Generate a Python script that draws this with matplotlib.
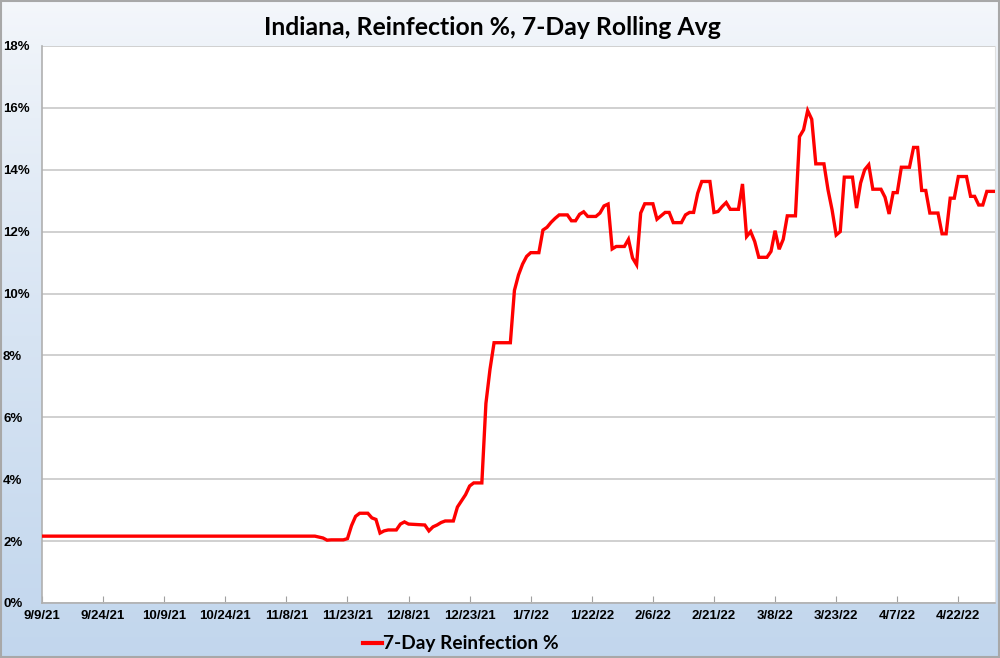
import numpy as np
import pandas as pd
import matplotlib.pyplot as plt
from matplotlib.ticker import FuncFormatter

# breakpoints of the 7-day reinfection % line
dates = ["9/9/21", "11/15/21", "11/16/21", "11/17/21", "11/18/21", "11/19/21", "11/22/21",
         "11/23/21", "11/24/21", "11/25/21", "11/26/21", "11/28/21", "11/29/21", "11/30/21",
         "12/1/21", "12/2/21", "12/3/21", "12/5/21", "12/6/21", "12/7/21", "12/8/21",
         "12/12/21", "12/13/21", "12/14/21", "12/15/21", "12/16/21", "12/17/21", "12/19/21",
         "12/20/21", "12/21/21", "12/22/21", "12/23/21", "12/24/21", "12/26/21", "12/27/21",
         "12/28/21", "12/29/21", "1/2/22", "1/3/22", "1/4/22", "1/5/22", "1/6/22", "1/7/22",
         "1/9/22", "1/10/22", "1/11/22", "1/12/22", "1/13/22", "1/14/22", "1/16/22", "1/17/22",
         "1/18/22", "1/19/22", "1/20/22", "1/21/22", "1/23/22", "1/24/22", "1/25/22", "1/26/22",
         "1/27/22", "1/28/22", "1/30/22", "1/31/22", "2/1/22", "2/2/22", "2/3/22", "2/4/22",
         "2/6/22", "2/7/22", "2/8/22", "2/9/22", "2/10/22", "2/11/22", "2/13/22", "2/14/22",
         "2/15/22", "2/16/22", "2/17/22", "2/18/22", "2/20/22", "2/21/22", "2/22/22", "2/23/22",
         "2/24/22", "2/25/22", "2/27/22", "2/28/22", "3/1/22", "3/2/22", "3/3/22", "3/4/22",
         "3/6/22", "3/7/22", "3/8/22", "3/9/22", "3/10/22", "3/11/22", "3/13/22", "3/14/22",
         "3/15/22", "3/16/22", "3/17/22", "3/18/22", "3/20/22", "3/21/22", "3/22/22", "3/23/22",
         "3/24/22", "3/25/22", "3/27/22", "3/28/22", "3/29/22", "3/30/22", "3/31/22", "4/1/22",
         "4/3/22", "4/4/22", "4/5/22", "4/6/22", "4/7/22", "4/8/22", "4/10/22", "4/11/22",
         "4/12/22", "4/13/22", "4/14/22", "4/15/22", "4/17/22", "4/18/22", "4/19/22", "4/20/22",
         "4/21/22", "4/22/22", "4/24/22", "4/25/22", "4/26/22", "4/27/22", "4/28/22", "4/29/22",
         "5/1/22"]
reinf_pct = [2.16, 2.16, 2.13, 2.10, 2.03, 2.04, 2.04,
             2.08, 2.50, 2.80, 2.90, 2.90, 2.75, 2.70,
             2.26, 2.33, 2.36, 2.36, 2.55, 2.62, 2.55,
             2.52, 2.33, 2.46, 2.52, 2.60, 2.65, 2.65,
             3.10, 3.30, 3.50, 3.78, 3.88, 3.88, 6.45,
             7.55, 8.41, 8.41, 10.10, 10.60, 10.95, 11.20, 11.32,
             11.32, 12.05, 12.14, 12.30, 12.43, 12.54, 12.54, 12.35,
             12.35, 12.56, 12.64, 12.49, 12.49, 12.60, 12.83, 12.89,
             11.44, 11.52, 11.52, 11.75, 11.15, 10.93, 12.60, 12.90,
             12.90, 12.40, 12.51, 12.62, 12.62, 12.29, 12.29, 12.54,
             12.62, 12.62, 13.24, 13.62, 13.62, 12.62, 12.65, 12.81,
             12.94, 12.72, 12.72, 13.54, 11.84, 12.00, 11.68, 11.17,
             11.17, 11.36, 12.03, 11.43, 11.75, 12.51, 12.51, 15.07,
             15.29, 15.91, 15.63, 14.19, 14.19, 13.35, 12.70, 11.89,
             12.00, 13.76, 13.76, 12.76, 13.57, 14.00, 14.16, 13.37,
             13.37, 13.11, 12.57, 13.26, 13.26, 14.08, 14.08, 14.72,
             14.72, 13.33, 13.33, 12.60, 12.60, 11.93, 11.93, 13.08,
             13.08, 13.78, 13.78, 13.14, 13.14, 12.86, 12.86, 13.30,
             13.30]

x = pd.to_datetime(dates, format="%m/%d/%y")
start = pd.Timestamp("2021-09-09")
end = pd.Timestamp("2022-05-01")
tick_dates = pd.date_range(start, end, freq="15D")

fig = plt.figure(figsize=(10, 6.58), dpi=100)

# gradient background
bg = fig.add_axes([0, 0, 1, 1], zorder=-10)
grad = np.linspace(0, 1, 256).reshape(-1, 1)
top = np.array([0.96, 0.97, 0.985])
bot = np.array([0.76, 0.84, 0.93])
img = top + (bot - top) * grad[..., None] ** 0.8
bg.imshow(img, aspect="auto", extent=[0, 1, 0, 1], origin="upper")
bg.add_patch(plt.Rectangle((0.0008, 0.001), 0.9984, 0.997, fill=False,
                           edgecolor="#a8a8a8", lw=1.5, transform=bg.transAxes))
bg.set_axis_off()

ax = fig.add_axes([0.042, 0.0836, 0.953, 0.8466])
ax.set_facecolor("white")
ax.plot(x, reinf_pct, color="#ff0000", lw=2.4, solid_joinstyle="miter", zorder=3)

ax.set_xlim(start, end)
ax.set_ylim(0, 18)
ax.set_yticks(np.arange(0, 19, 2))
ax.yaxis.set_major_formatter(FuncFormatter(lambda v, p: f"{v:.0f}%"))
ax.set_xticks(tick_dates)
ax.set_xticklabels([f"{d.month}/{d.day}/{d.strftime('%y')}" for d in tick_dates])
ax.grid(axis="y", color="#d0d0d0", lw=1.4)
ax.set_axisbelow(True)

for lab in ax.get_xticklabels() + ax.get_yticklabels():
    lab.set_fontfamily("Liberation Sans")
    lab.set_fontweight("bold")
    lab.set_fontsize(9.5)
for lab in ax.get_yticklabels():
    lab.set_horizontalalignment("left")
ax.tick_params(axis="x", direction="in", length=5, color="#a0a0a0", pad=5)
ax.tick_params(axis="y", length=0, pad=28)

for s in ["left", "bottom"]:
    ax.spines[s].set_color("#b0b0b0")
    ax.spines[s].set_linewidth(1.2)
ax.spines["top"].set_visible(False)
ax.spines["right"].set_color("#e0e0e0")

fig.text(0.4925, 0.958, "Indiana, Reinfection %, 7-Day Rolling Avg", ha="center", va="center",
         fontfamily="Lato", fontweight="bold", fontsize=17.8)

# legend
fig.lines.append(plt.Line2D([0.363, 0.382], [0.023, 0.023], color="#ff0000", lw=3,
                            transform=fig.transFigure))
fig.text(0.383, 0.022, "7-Day Reinfection %", ha="left", va="center",
         fontfamily="Lato", fontweight="bold", fontsize=13.8)

fig.savefig("out.png", dpi=100)
